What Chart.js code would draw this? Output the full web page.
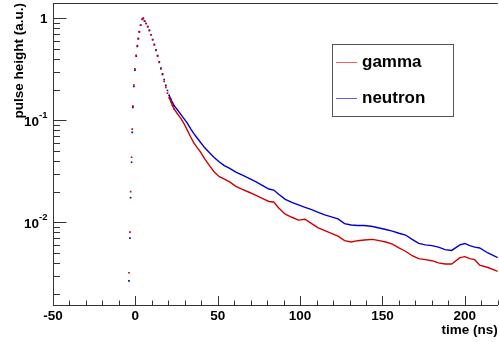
<!DOCTYPE html>
<html>
<head>
<meta charset="utf-8">
<script src="https://cdn.jsdelivr.net/npm/chart.js"></script>
<style>
  html, body { margin: 0; padding: 0; background: #fff; }
  canvas { display: block; }
</style>
</head>
<body>
<canvas id="pulseChart" width="499" height="342"></canvas>
<script>
// time samples (ns), shared by both series
const timeNs = [
  -3.9, -3.3, -2.9, -2.3, -1.9, -1.5, -0.9, -0.3, 0.5, 1.2, 1.8, 2.4, 3.2, 4.2,
  4.8, 5.6, 6.5, 7.5, 8.5, 9.5, 10.5, 11.5, 12.5, 13.5, 14.5, 15.5, 16.5, 17.5, 18.5, 19.5, 20.5, 21.5, 22.5, 23.5,
  25.5, 27.5, 29.5, 31.5, 33.5, 35.5, 37.5, 39.5,
  42, 45, 48, 51, 54, 57,
  61, 65, 69, 73, 77, 81,
  84, 87, 91, 95, 99, 103, 107, 111, 115, 119, 123, 127, 131, 135, 139,
  144, 148, 152, 156, 160, 164, 168, 172, 176, 180, 184, 188, 192, 197, 200, 203, 206, 209, 214, 220
];

const gammaHeight = [
  0.0032, 0.0080, 0.020, 0.0434, 0.082, 0.138, 0.222, 0.32, 0.434, 0.54, 0.636, 0.74, 0.86, 0.98,
  1.0, 0.94, 0.89, 0.83, 0.76, 0.69, 0.615, 0.55, 0.485, 0.425, 0.37, 0.32, 0.28, 0.24, 0.21, 0.185, 0.167, 0.153, 0.14, 0.129,
  0.116, 0.105, 0.093, 0.080, 0.069, 0.060, 0.054, 0.049,
  0.042, 0.036, 0.031, 0.028, 0.0265, 0.025,
  0.0225, 0.021, 0.0197, 0.0185, 0.0172, 0.0160,
  0.0158, 0.0138, 0.0120, 0.0112, 0.0105, 0.0107, 0.0097, 0.0088, 0.0083, 0.0078, 0.0073, 0.0066, 0.0064, 0.0066, 0.0067,
  0.0068, 0.0066, 0.0064, 0.0061, 0.0056, 0.0052, 0.0047, 0.0044, 0.0043, 0.0042, 0.0040, 0.0039, 0.0039, 0.0045, 0.0046, 0.0044, 0.0043, 0.0038, 0.0036, 0.0033
];

const neutronHeight = [
  0.00266, 0.0070, 0.0174, 0.0388, 0.076, 0.134, 0.215, 0.31, 0.425, 0.53, 0.63, 0.735, 0.855, 0.975,
  1.0, 0.94, 0.89, 0.83, 0.76, 0.69, 0.62, 0.555, 0.49, 0.43, 0.375, 0.325, 0.285, 0.25, 0.22, 0.196, 0.176, 0.161, 0.149, 0.139,
  0.127, 0.115, 0.104, 0.094, 0.083, 0.074, 0.067, 0.061,
  0.054, 0.048, 0.043, 0.039, 0.036, 0.034,
  0.031, 0.029, 0.027, 0.025, 0.023, 0.0212,
  0.0207, 0.0188, 0.0168, 0.0157, 0.0148, 0.0140, 0.0133, 0.0125, 0.0118, 0.0113, 0.0108, 0.0097, 0.0094, 0.0093, 0.0093,
  0.0091, 0.0088, 0.0085, 0.0082, 0.0078, 0.0075, 0.0068, 0.0062, 0.0060, 0.0059, 0.0057, 0.0054, 0.0053, 0.0060, 0.0062, 0.0059, 0.0057, 0.0056, 0.0050, 0.0045
];

const yTickValues = [0.01, 0.1, 1];
const yTickExponents = ['-2', '-1', ''];

const RED = 'rgb(210,0,0)';
const BLUE = 'rgb(0,0,210)';
const LEGEND_COLORS = ['rgb(255,90,90)', 'rgb(90,90,255)'];
const FONT = '"Liberation Sans", Arial, Helvetica, sans-serif';

function toPoints(values) {
  return timeNs.map((t, i) => ({ x: t, y: values[i] }));
}

function makeSet(label, values, color) {
  return {
    label,
    data: toPoints(values),
    showLine: true,
    borderColor: color,
    backgroundColor: color,
    borderWidth: 1.4,
    pointStyle: 'rect',
    pointBorderWidth: 0,
    pointRadius: ctx => (ctx.raw && ctx.raw.x <= 24 ? 1.2 : 0),
    pointHoverRadius: 0,
    segment: {
      borderColor: ctx => (ctx.p0.parsed.x < 20 ? 'transparent' : color)
    }
  };
}

// ROOT-like frame: inner ticks, y labels with exponents, boxed legend
const rootFrame = {
  id: 'rootFrame',
  afterDraw(chart) {
    const { ctx, chartArea: a, scales: { x, y } } = chart;
    ctx.save();
    ctx.strokeStyle = '#333';
    ctx.lineWidth = 1;

    ctx.beginPath();
    ctx.moveTo(a.left, a.top + 0.5);
    ctx.lineTo(a.right, a.top + 0.5);
    ctx.stroke();

    ctx.beginPath();
    for (let v = -50; v <= 220; v += 10) {
      const px = Math.round(x.getPixelForValue(v)) + 0.5;
      const len = v % 50 === 0 ? 9 : 4.5;
      ctx.moveTo(px, a.bottom);
      ctx.lineTo(px, a.bottom - len);
    }
    for (let k = -3; k <= 0; k++) {
      for (let m = 1; m <= 9; m++) {
        const v = m * Math.pow(10, k);
        if (v < y.min || v > y.max) continue;
        const py = Math.round(y.getPixelForValue(v)) + 0.5;
        ctx.moveTo(a.left, py);
        ctx.lineTo(a.left + (m === 1 ? 13.5 : 7), py);
      }
    }
    ctx.stroke();

    ctx.fillStyle = '#000';
    ctx.textBaseline = 'middle';
    const right = a.left - 5.5;
    yTickValues.forEach((v, i) => {
      const py = y.getPixelForValue(v);
      const exp = yTickExponents[i];
      if (!exp) {
        ctx.font = 'bold 13.5px ' + FONT;
        ctx.textAlign = 'right';
        ctx.fillText('1', right, py + 0.5);
        return;
      }
      ctx.font = 'bold 9.5px ' + FONT;
      const w2 = ctx.measureText(exp).width;
      ctx.textAlign = 'left';
      ctx.fillText(exp, right - w2, py - 5);
      ctx.font = 'bold 13.5px ' + FONT;
      ctx.textAlign = 'right';
      ctx.fillText('10', right - w2, py + 1.5);
    });

    // legend box
    const bx = 332.5, by = 44.5, bw = 121, bh = 72;
    ctx.fillStyle = '#fff';
    ctx.fillRect(bx, by, bw, bh);
    ctx.strokeStyle = '#555';
    ctx.strokeRect(bx, by, bw, bh);
    const rows = [62, 98];
    chart.data.datasets.forEach((ds, i) => {
      ctx.strokeStyle = LEGEND_COLORS[i];
      ctx.beginPath();
      ctx.moveTo(336, rows[i] + 0.5);
      ctx.lineTo(357, rows[i] + 0.5);
      ctx.stroke();
      ctx.fillStyle = '#000';
      ctx.font = 'bold 17px ' + FONT;
      ctx.textAlign = 'left';
      ctx.fillText(ds.label, 362, rows[i] + 0.5);
    });
    ctx.restore();
  }
};

new Chart(document.getElementById('pulseChart'), {
  type: 'scatter',
  data: {
    datasets: [
      makeSet('gamma', gammaHeight, RED),
      makeSet('neutron', neutronHeight, BLUE)
    ]
  },
  options: {
    responsive: false,
    animation: false,
    devicePixelRatio: 1,
    layout: { padding: { top: 3, left: 0, right: 0, bottom: 0 } },
    plugins: {
      legend: { display: false },
      tooltip: { enabled: false }
    },
    scales: {
      x: {
        type: 'linear',
        min: -50,
        max: 220,
        grid: { display: false, drawTicks: false },
        border: { display: true, color: '#333', width: 1 },
        ticks: {
          stepSize: 50,
          includeBounds: false,
          padding: 3,
          maxRotation: 0,
          color: '#000',
          font: { family: FONT, size: 13.5, weight: 'bold' }
        },
        title: {
          display: true,
          text: 'time (ns)',
          align: 'end',
          color: '#000',
          padding: { top: 0, bottom: 4 },
          font: { family: FONT, size: 13.5, weight: 'bold' }
        },
        afterFit(scale) { scale.height = 37; }
      },
      y: {
        type: 'logarithmic',
        min: 0.001545,
        max: 1.413,
        grid: { display: false, drawTicks: false },
        border: { display: true, color: '#333', width: 1 },
        ticks: { display: false },
        title: {
          display: true,
          text: 'pulse height (a.u.)',
          align: 'end',
          color: '#000',
          padding: { top: 11, bottom: 0 },
          font: { family: FONT, size: 13.5, weight: 'bold' }
        },
        afterFit(scale) { scale.width = 53; }
      }
    }
  },
  plugins: [rootFrame]
});
</script>
</body>
</html>
